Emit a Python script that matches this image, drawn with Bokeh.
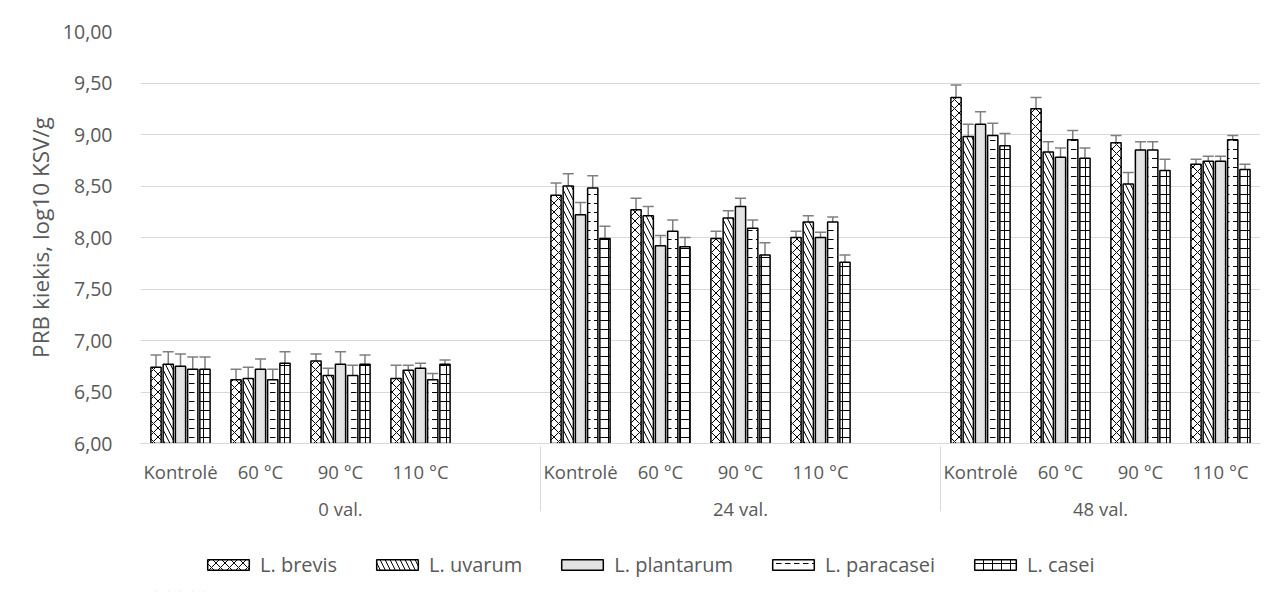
from bokeh.plotting import figure
from bokeh.layouts import column
from bokeh.models import (FactorRange, Whisker, ColumnDataSource, Legend, LegendItem,
                          CustomJSTickFormatter, FixedTicker, TeeHead, CDSView, IndexFilter)
from bokeh.transform import dodge
from bokeh.embed import file_html
from bokeh.resources import INLINE

groups = ["0 val.", "24 val.", "48 val."]
temps = ["Kontrolė", "60 °C", "90 °C", "110 °C"]
series = ["L. brevis", "L. uvarum", "L. plantarum", "L. paracasei", "L. casei"]

brevis = [6.74, 6.62, 6.80, 6.63, 8.41, 8.27, 7.99, 8.00, 9.36, 9.25, 8.92, 8.71]
brevis_err = [0.12, 0.10, 0.07, 0.13, 0.12, 0.11, 0.07, 0.06, 0.12, 0.11, 0.07, 0.05]
uvarum = [6.77, 6.63, 6.66, 6.71, 8.50, 8.21, 8.19, 8.15, 8.98, 8.83, 8.52, 8.74]
uvarum_err = [0.12, 0.11, 0.07, 0.05, 0.12, 0.09, 0.07, 0.06, 0.12, 0.10, 0.11, 0.05]
plantarum = [6.75, 6.72, 6.77, 6.73, 8.22, 7.92, 8.30, 8.00, 9.10, 8.78, 8.85, 8.74]
plantarum_err = [0.12, 0.10, 0.12, 0.05, 0.12, 0.10, 0.08, 0.05, 0.12, 0.09, 0.08, 0.05]
paracasei = [6.72, 6.62, 6.66, 6.62, 8.48, 8.06, 8.09, 8.15, 8.99, 8.95, 8.85, 8.95]
paracasei_err = [0.12, 0.10, 0.10, 0.06, 0.12, 0.11, 0.08, 0.05, 0.12, 0.09, 0.08, 0.04]
casei = [6.72, 6.78, 6.77, 6.77, 7.99, 7.91, 7.83, 7.76, 8.89, 8.77, 8.65, 8.66]
casei_err = [0.12, 0.11, 0.09, 0.04, 0.12, 0.09, 0.12, 0.07, 0.12, 0.10, 0.11, 0.05]

y_ticks = [6.0, 6.5, 7.0, 7.5, 8.0, 8.5, 9.0, 9.5, 10.0]

values = [brevis, uvarum, plantarum, paracasei, casei]
errors = [brevis_err, uvarum_err, plantarum_err, paracasei_err, casei_err]

FONT = "Open Sans"
TXT = "#595959"
GRID = "#d9d9d9"

factors = []
for gi, g in enumerate(groups):
    for t in temps:
        factors.append((g, t))
    if gi < len(groups) - 1:
        factors.append((g, " "))

x = [(g, t) for g in groups for t in temps]

xr = FactorRange(*factors, factor_padding=0, group_padding=0, range_padding=0)

p = figure(x_range=xr, y_range=(6.0, 10.0), width=1262, height=543,
           output_backend="svg", toolbar_location=None,
           min_border_left=140, min_border_right=2, min_border_top=31, min_border_bottom=100)

p.outline_line_color = None
p.xgrid.grid_line_color = None
p.ygrid.grid_line_color = GRID
p.ygrid.grid_line_width = 1
p.ygrid.ticker = FixedTicker(ticks=y_ticks)

yax = p.yaxis[0]
yax.ticker = FixedTicker(ticks=y_ticks)
yax.formatter = CustomJSTickFormatter(code="return tick.toFixed(2).replace('.', ',');")
yax.axis_line_color = None
yax.major_tick_line_color = None
yax.minor_tick_line_color = None
yax.major_label_standoff = 22
yax.major_label_text_font = FONT
yax.major_label_text_font_size = "19.5px"
yax.major_label_text_color = TXT
yax.axis_label = "PRB kiekis, log10 KSV/g"
yax.axis_label_text_font = FONT
yax.axis_label_text_font_size = "22.5px"
yax.axis_label_text_font_style = "normal"
yax.axis_label_text_color = TXT
yax.axis_label_standoff = 4

xax = p.xaxis[0]
xax.axis_line_color = GRID
xax.axis_line_width = 1
xax.major_tick_line_color = None
xax.minor_tick_line_color = None
xax.major_label_standoff = 9
xax.major_label_orientation = "horizontal"
xax.major_label_text_font = FONT
xax.major_label_text_font_size = "18.5px"
xax.major_label_text_color = TXT
xax.group_text_font = FONT
xax.group_text_font_size = "18.5px"
xax.group_text_color = TXT
xax.group_text_font_style = "normal"
xax.group_label_orientation = "horizontal"
xax.separator_line_color = GRID
xax.separator_line_width = 1

hatches = ["x", "\\", " ", '"', "+"]
fills = ["white", "white", "#e3e3e3", "white", "white"]
scales = [9, 10, 8, 9, 9]
step = 0.153
offsets = [-2 * step, -step, 0, step, 2 * step]

# legend strip below the chart; its renderers share the data, which lies outside its view
lg = figure(x_range=xr, y_range=(20.0, 21.0), width=1262, height=49,
            output_backend="svg", toolbar_location=None,
            min_border_left=0, min_border_right=0, min_border_top=0, min_border_bottom=0)
lg.axis.visible = False
lg.grid.visible = False
lg.outline_line_color = None

items = []
for name, vals, errs, h, fc, sc, off in zip(series, values, errors, hatches, fills, scales, offsets):
    src = ColumnDataSource(dict(x=x, top=vals,
                                upper=[v + e for v, e in zip(vals, errs)],
                                lower=[v - e for v, e in zip(vals, errs)]))
    style = dict(fill_color=fc, line_color="black", line_width=1.5,
                 hatch_pattern=h, hatch_color="black", hatch_scale=sc, hatch_weight=1)
    p.vbar(x=dodge("x", off, range=xr), top="top", bottom=6.0, width=0.128, source=src, **style)
    w = Whisker(source=src, base=dodge("x", off, range=xr), upper="upper", lower="lower",
                line_color="#7f7f7f", line_width=1.5,
                upper_head=TeeHead(size=11, line_color="#7f7f7f", line_width=1.5),
                lower_head=TeeHead(size=11, line_color="#7f7f7f", line_width=1.5))
    p.add_layout(w)
    r = lg.vbar(x=dodge("x", off, range=xr), top="top", bottom=6.0, width=0.0005, source=src,
                view=CDSView(filter=IndexFilter([0])), **style)
    items.append(LegendItem(label=name, renderers=[r], index=0))

legend = Legend(items=items, orientation="horizontal", location=(62, 14),
                glyph_width=52, glyph_height=13, spacing=34, padding=6, margin=0,
                label_standoff=6,
                label_text_font=FONT, label_text_font_size="20px", label_text_color=TXT,
                border_line_color=None, background_fill_alpha=0)
lg.add_layout(legend)

open("out.html", "w").write(file_html(column(p, lg), INLINE))
